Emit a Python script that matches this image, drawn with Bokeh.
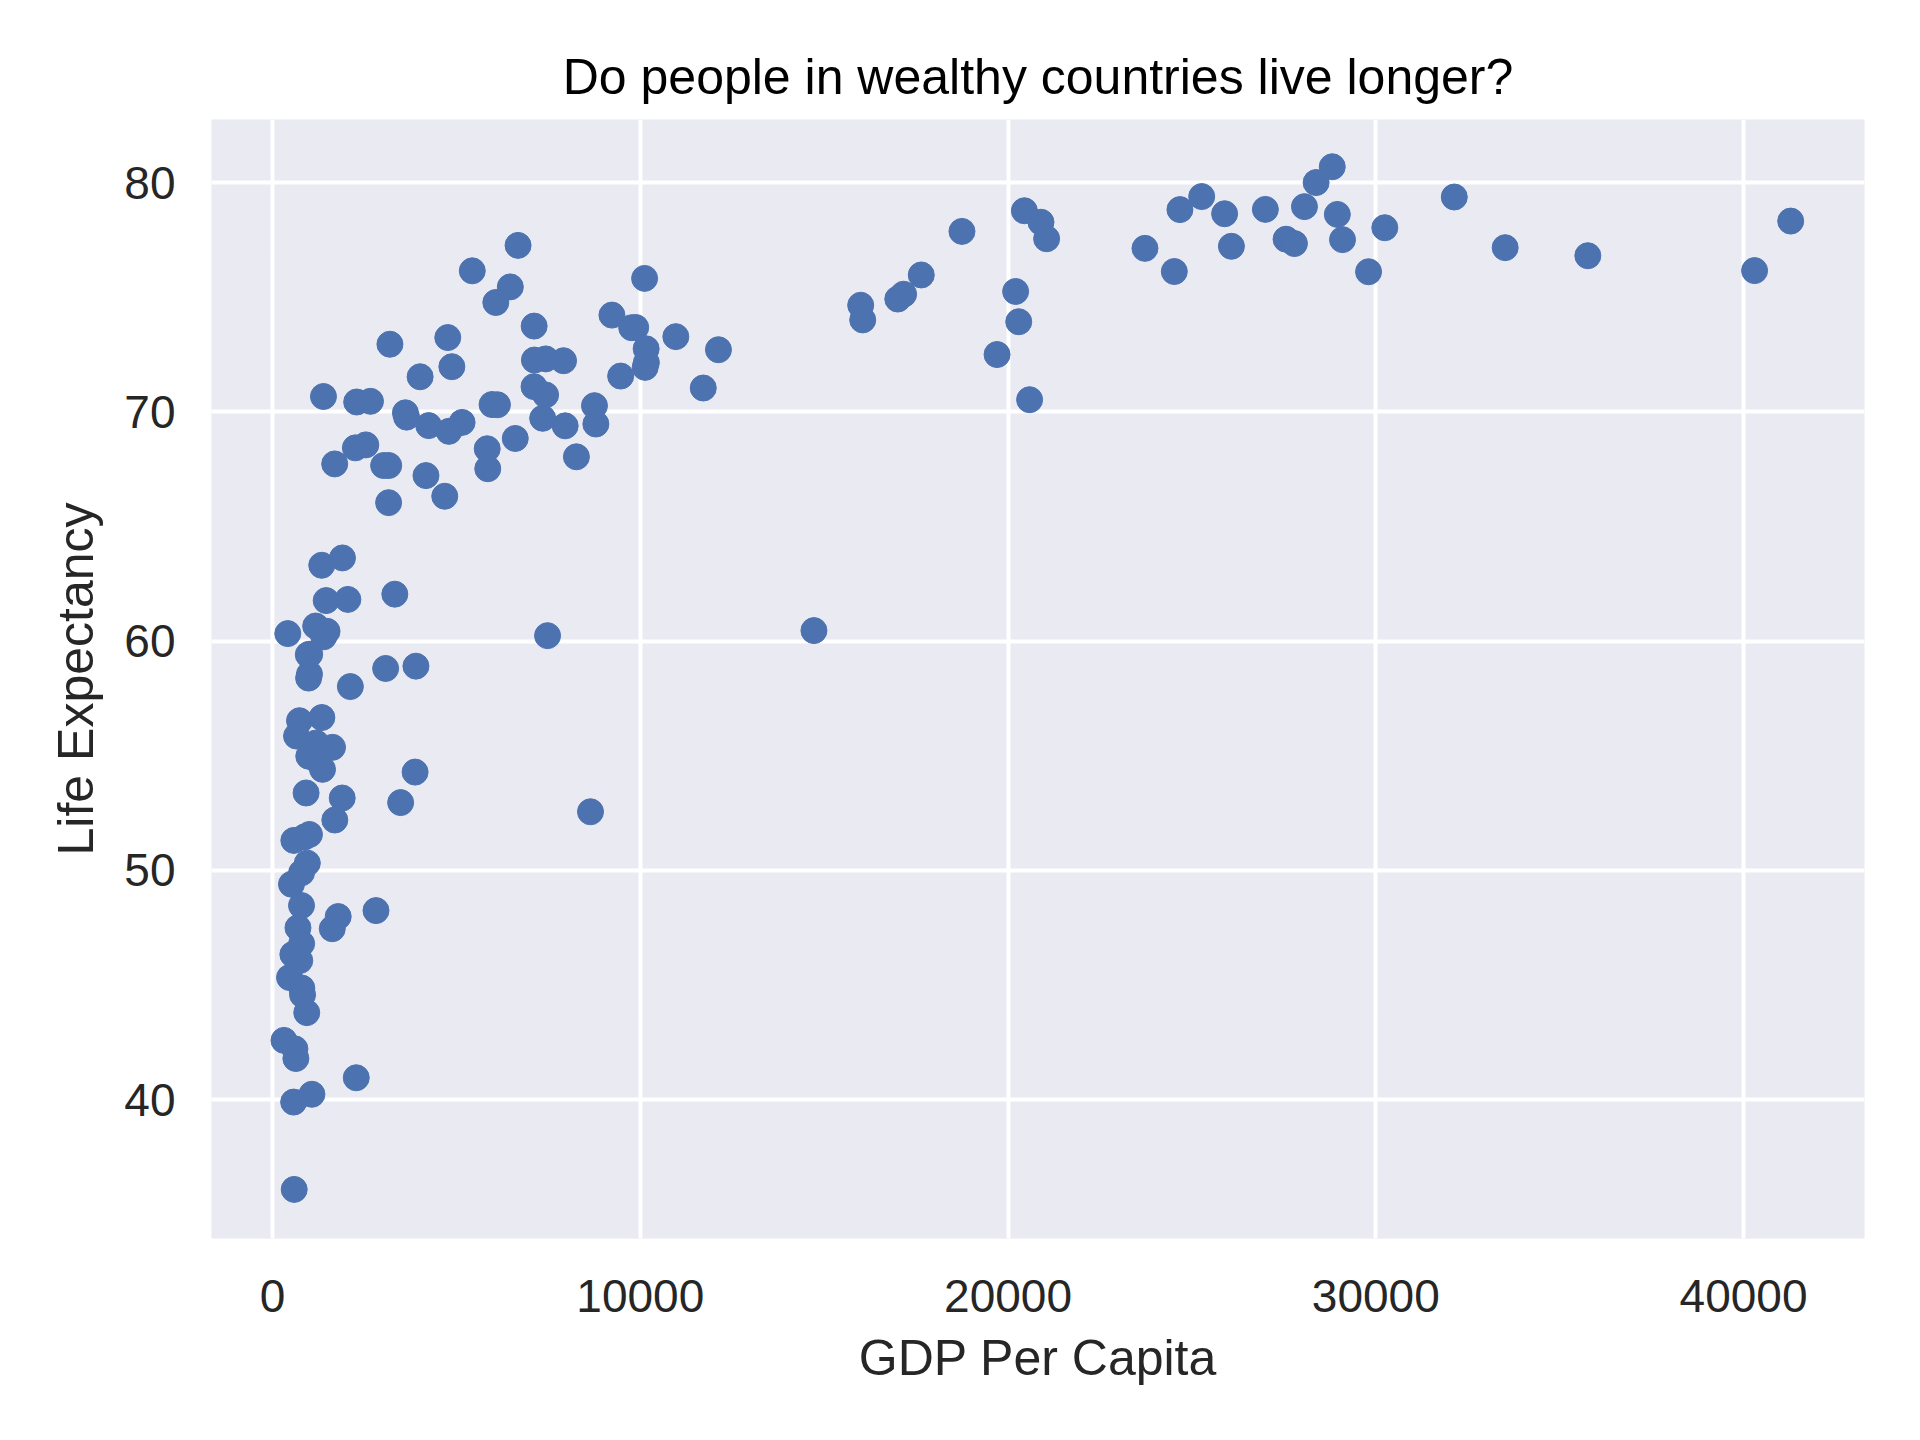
from bokeh.plotting import figure
from bokeh.models import Range1d, FixedTicker, ColumnDataSource
from bokeh.embed import file_html
from bokeh.resources import INLINE

countries = ["Afghanistan", "Albania", "Algeria", "Angola", "Argentina", "Australia", "Austria", "Bahrain",
             "Bangladesh", "Belgium", "Benin", "Bolivia", "Bosnia and Herzegovina", "Botswana", "Brazil",
             "Bulgaria", "Burkina Faso", "Burundi", "Cambodia", "Cameroon", "Canada", "Central African Republic",
             "Chad", "Chile", "China", "Colombia", "Comoros", "Congo, Dem. Rep.", "Congo, Rep.", "Costa Rica",
             "Cote d'Ivoire", "Croatia", "Cuba", "Czech Republic", "Denmark", "Djibouti", "Dominican Republic",
             "Ecuador", "Egypt", "El Salvador", "Equatorial Guinea", "Eritrea", "Ethiopia", "Finland", "France",
             "Gabon", "Gambia", "Germany", "Ghana", "Greece", "Guatemala", "Guinea", "Guinea-Bissau", "Haiti",
             "Honduras", "Hong Kong", "Hungary", "Iceland", "India", "Indonesia", "Iran", "Iraq", "Ireland",
             "Israel", "Italy", "Jamaica", "Japan", "Jordan", "Kenya", "Korea, Dem. Rep.", "Korea, Rep.",
             "Kuwait", "Lebanon", "Lesotho", "Liberia", "Libya", "Madagascar", "Malawi", "Malaysia", "Mali",
             "Mauritania", "Mauritius", "Mexico", "Mongolia", "Montenegro", "Morocco", "Mozambique", "Myanmar",
             "Namibia", "Nepal", "Netherlands", "New Zealand", "Nicaragua", "Niger", "Nigeria", "Norway", "Oman",
             "Pakistan", "Panama", "Paraguay", "Peru", "Philippines", "Poland", "Portugal", "Puerto Rico",
             "Reunion", "Romania", "Rwanda", "Sao Tome and Principe", "Saudi Arabia", "Senegal", "Serbia",
             "Sierra Leone", "Singapore", "Slovak Republic", "Slovenia", "Somalia", "South Africa", "Spain",
             "Sri Lanka", "Sudan", "Swaziland", "Sweden", "Switzerland", "Syria", "Taiwan", "Tanzania",
             "Thailand", "Togo", "Trinidad and Tobago", "Tunisia", "Turkey", "Uganda", "United Kingdom",
             "United States", "Uruguay", "Venezuela", "Vietnam", "West Bank and Gaza", "Yemen", "Zambia",
             "Zimbabwe"]

gdp_per_capita = [635, 3193, 4797, 2277, 10967, 26998, 29096, 20292,
                  973, 27561, 1233, 3326, 4766, 8647, 7958,
                  5970, 946, 463, 734, 1694, 28955, 741,
                  1005, 10118, 2289, 6117, 1174, 312, 3484, 6677,
                  1786, 9876, 5432, 16049, 29804, 1895, 3614,
                  7429, 4173, 5155, 2814, 913, 516, 23724, 25890,
                  14723, 654, 27789, 1005, 18748, 4684, 869, 797, 1342,
                  3160, 28378, 11713, 28061, 1459, 3157, 8264, 3076, 24522,
                  20897, 24675, 7122, 28817, 3645, 1360, 1691, 15994,
                  40301, 8755, 1186, 609, 9467, 986, 692, 10133, 790,
                  1483, 7426, 9767, 1902, 6466, 3021, 553, 415,
                  3900, 1011, 30246, 21050, 2253, 580, 1625, 41283, 19702,
                  2049, 7114, 4247, 5838, 2537, 10160, 17641, 17003,
                  6072, 7347, 590, 1339, 20587, 1392, 7914,
                  575, 33519, 12126, 17161, 931, 7479, 20445,
                  2664, 1632, 3877, 25267, 32135, 4014, 20207, 789,
                  5853, 982, 8793, 4877, 6601, 817, 26075,
                  35767, 9230, 10166, 1386, 7111, 2117, 1071,
                  792]

life_expectancy = [41.8, 72.95, 69.15, 40.96, 73.28, 78.83, 77.51, 73.93,
                   59.41, 77.53, 54.78, 62.05, 73.24, 52.56, 69.39,
                   70.32, 50.32, 45.33, 56.53, 52.2, 78.61, 46.07,
                   51.57, 75.82, 70.43, 70.31, 60.66, 42.59, 52.96, 77.26,
                   47.99, 73.68, 76.15, 74.01, 76.11, 53.16, 69.96,
                   72.31, 67.22, 69.54, 48.25, 53.38, 49.4, 77.13, 78.64,
                   60.46, 55.86, 77.34, 58.56, 77.87, 66.32, 51.46, 44.87, 56.67,
                   67.66, 80.0, 71.04, 78.95, 61.77, 66.04, 68.04, 58.81, 76.12,
                   78.27, 78.82, 72.26, 80.69, 69.77, 54.41, 67.73, 74.65,
                   76.16, 70.27, 55.56, 42.22, 71.56, 54.98, 47.5, 71.94, 49.9,
                   60.43, 70.74, 73.67, 63.63, 75.45, 67.66, 46.34, 60.33,
                   58.91, 59.43, 78.03, 77.55, 68.43, 51.31, 47.46, 78.32, 72.5,
                   61.82, 73.74, 69.4, 68.39, 68.56, 72.75, 75.97, 74.92,
                   74.77, 69.72, 36.09, 63.31, 70.53, 60.19, 72.23,
                   39.9, 77.16, 72.71, 75.13, 43.8, 60.24, 78.77,
                   70.46, 55.37, 54.29, 79.39, 79.37, 71.53, 75.25, 48.47,
                   67.52, 58.39, 69.47, 71.97, 68.84, 44.58, 77.22,
                   76.81, 74.22, 72.15, 70.67, 71.1, 58.02, 40.24,
                   46.81]

x_ticks = [0, 10000, 20000, 30000, 40000]
y_ticks = [40, 50, 60, 70, 80]

source = ColumnDataSource(data=dict(country=countries, gdp=gdp_per_capita, life=life_expectancy))

FONT = "Liberation Sans"
TXT = "#262626"

p = figure(
    frame_width=1653, frame_height=1119,
    x_range=Range1d(-1659, 43290), y_range=Range1d(33.95, 82.75),
    output_backend="svg", toolbar_location=None,
    min_border_left=211, min_border_top=119, min_border_right=38, min_border_bottom=180,
    background_fill_color="#EAEAF2", border_fill_color="white", outline_line_color=None,
    title="Do people in wealthy countries live longer?",
)

p.title.text_font = FONT
p.title.text_font_size = "50px"
p.title.text_font_style = "normal"
p.title.text_color = "black"
p.title.align = "center"
p.title.standoff = 29

p.xaxis.ticker = FixedTicker(ticks=x_ticks)
p.yaxis.ticker = FixedTicker(ticks=y_ticks)
p.xaxis.axis_label = "GDP Per Capita"
p.yaxis.axis_label = "Life Expectancy"

for ax in (p.xaxis, p.yaxis):
    ax.axis_line_color = None
    ax.major_tick_line_color = None
    ax.minor_tick_line_color = None
    ax.major_tick_out = 0
    ax.major_tick_in = 0
    ax.major_label_text_font = FONT
    ax.major_label_text_font_size = "46px"
    ax.major_label_text_color = TXT
    ax.axis_label_text_font = FONT
    ax.axis_label_text_font_size = "50px"
    ax.axis_label_text_font_style = "normal"
    ax.axis_label_text_color = TXT

p.xaxis.major_label_standoff = 41
p.yaxis.major_label_standoff = 36
p.xaxis.axis_label_standoff = 15
p.yaxis.axis_label_standoff = 17

p.grid.grid_line_color = "white"
p.grid.grid_line_width = 4

p.scatter(x="gdp", y="life", source=source, size=26, fill_color="#4C72B0",
          line_color="#4C72B0", line_width=1)

open("out.html", "w").write(file_html(p, INLINE))
